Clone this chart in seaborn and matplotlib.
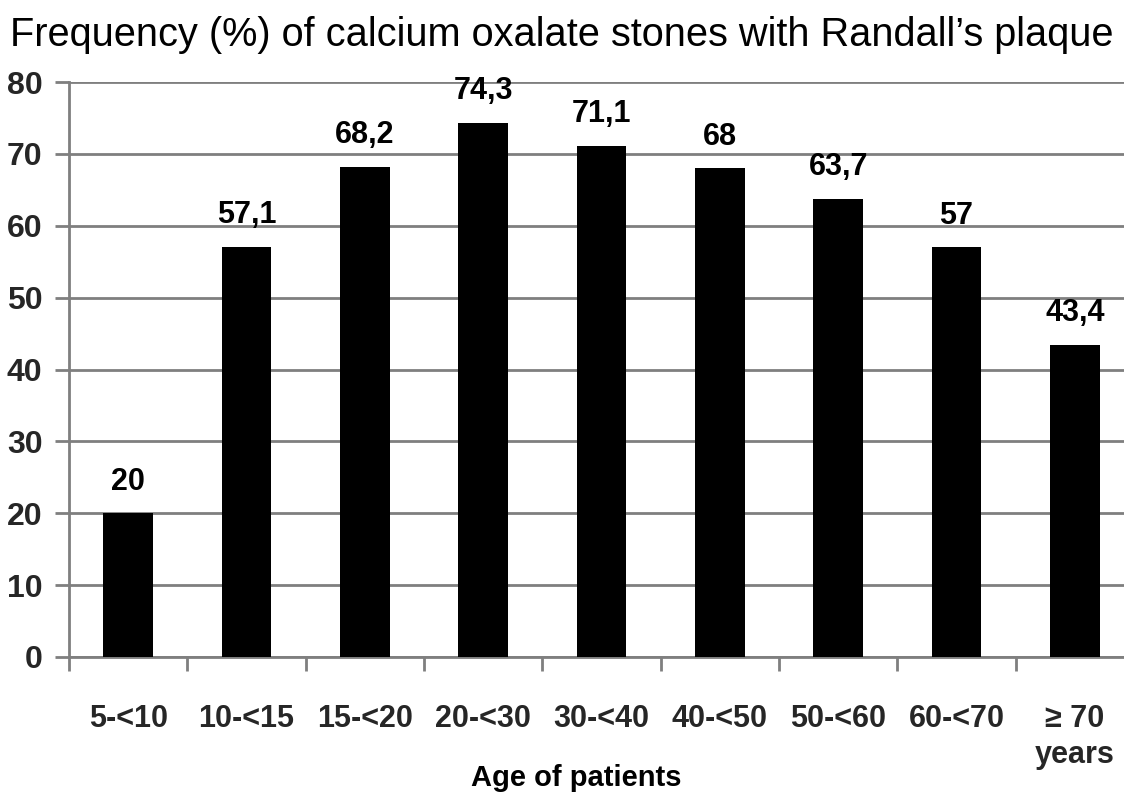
import matplotlib
matplotlib.use("Agg")
import matplotlib.pyplot as plt
import seaborn as sns
import pandas as pd
from matplotlib.ticker import FixedLocator

categories = ["5-<10", "10-<15", "15-<20", "20-<30", "30-<40", "40-<50", "50-<60", "60-<70", "\u2265 70\nyears"]
values = [20, 57.1, 68.2, 74.3, 71.1, 68, 63.7, 57, 43.4]
value_labels = ["20", "57,1", "68,2", "74,3", "71,1", "68", "63,7", "57", "43,4"]
y_ticks = [0, 10, 20, 30, 40, 50, 60, 70, 80]

sns.set_theme(style="white")
plt.rcParams['font.family'] = ['Liberation Sans', 'DejaVu Sans']

df = pd.DataFrame({"age": categories, "freq": values})

fig = plt.figure(figsize=(11.24, 7.96), dpi=100)
ax = fig.add_axes([69/1124, 1-657/796, 1065/1124, 575/796])

sns.barplot(data=df, x="age", y="freq", color="black", saturation=1, width=0.42, ax=ax, zorder=3)
for p in ax.patches:
    p.set_edgecolor("none")

ax.set_xlim(-0.5, len(categories) - 0.5)
ax.set_ylim(0, 80)
ax.set_yticks(y_ticks)
ax.set_yticklabels([str(t) for t in y_ticks], fontsize=23, fontweight='bold')
ax.yaxis.grid(True, color="#7f7f7f", linewidth=2, zorder=0)
ax.xaxis.grid(False)
ax.set_axisbelow(True)

ax.tick_params(axis='y', which='major', length=10, width=2, color="#7f7f7f", direction='out', left=True, pad=9)
ax.set_xticks(range(len(categories)))
ax.set_xticklabels(categories, fontsize=22, fontweight='bold', va='top', linespacing=1.25)
ax.tick_params(axis='x', which='major', length=0, pad=34)
ax.xaxis.set_minor_locator(FixedLocator([i - 0.5 for i in range(len(categories) + 1)]))
ax.tick_params(axis='x', which='minor', length=10, width=2, color="#7f7f7f", direction='out', bottom=True)

for s in ["top", "right"]:
    ax.spines[s].set_visible(False)
for s in ["left", "bottom"]:
    ax.spines[s].set_color("#7f7f7f")
    ax.spines[s].set_linewidth(2)

for i, (v, lab) in enumerate(zip(values, value_labels)):
    ax.annotate(lab, xy=(i, v), xytext=(0, 12), textcoords="offset points",
                ha="center", va="bottom", fontsize=22, fontweight="bold", color="black")

ax.set_xlabel("")
ax.set_ylabel("")
fig.text(576/1124, 1-778/796, "Age of patients", fontsize=21, fontweight="bold",
         ha="center", va="center", color="black")

fig.text(10/1124, 1-35/796, "Frequency (%) of calcium oxalate stones with Randall\u2019s plaque",
         fontsize=28.6, ha="left", va="center", color="black")

fig.savefig("out.png", dpi=100)
